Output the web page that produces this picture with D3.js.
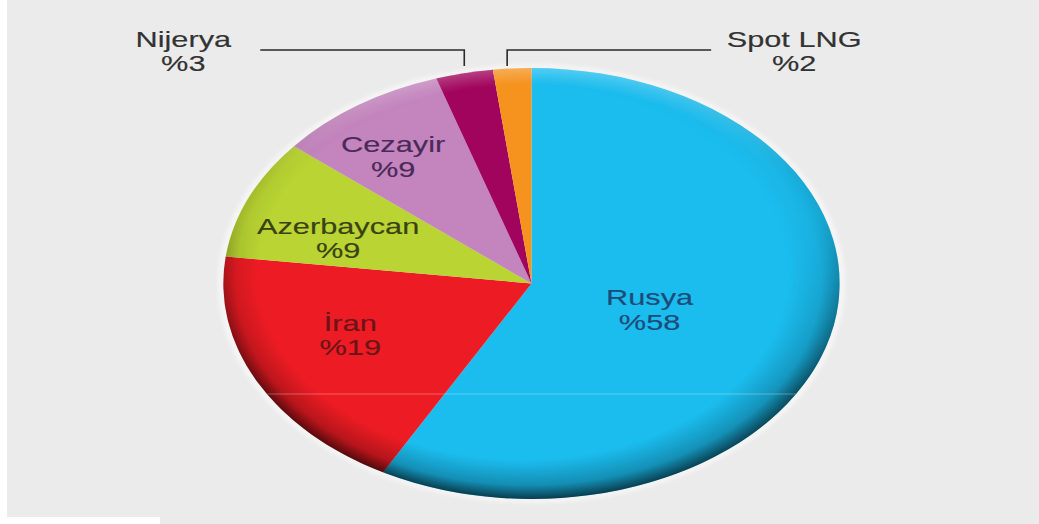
<!DOCTYPE html>
<html>
<head>
<meta charset="utf-8">
<script src="https://cdn.jsdelivr.net/npm/d3@7"></script>
<style>
  html, body { margin: 0; padding: 0; background: #ffffff; }
  svg { display: block; }
  text { font-family: "Liberation Sans", Arial, sans-serif; }
</style>
</head>
<body>
<svg id="chart" width="1039" height="524"></svg>
<script>
// Gas import shares by supplier (%)
const suppliers = ["Rusya", "İran", "Azerbaycan", "Cezayir", "Nijerya", "Spot LNG"];
const shares = [58, 19, 9, 9, 3, 2];
const shareLabels = ["%58", "%19", "%9", "%9", "%3", "%2"];
const sliceColors = ["#1bbdef", "#ed1c24", "#b9d433", "#c484be", "#a1045d", "#f6931e"];
const labelColors = ["#1d4b79", "#6a1418", "#3a4214", "#4a2a58", "#333333", "#333333"];

const W = 1039, H = 524;
const cx = 531.5, cy = 283.5;
const R = 215.5;          // vertical radius
const sx = 1.43;          // horizontal stretch of the pie
const fontSize = 21.5;

const svg = d3.select("#chart");
const defs = svg.append("defs");

// backdrop
svg.append("rect").attr("width", W).attr("height", H).attr("fill", "#ebebeb");
svg.append("rect").attr("x", 0).attr("y", 0).attr("width", 7).attr("height", H).attr("fill", "#ffffff");
svg.append("rect").attr("x", 0).attr("y", 517).attr("width", 160).attr("height", 7).attr("fill", "#ffffff");

// gradients for the rim shading
const shade = defs.append("radialGradient").attr("id", "rimShade")
  .attr("gradientUnits", "userSpaceOnUse")
  .attr("cx", 0).attr("cy", 0).attr("r", R)
  .attr("fx", -R * 0.2).attr("fy", -R * 0.3);
shade.append("stop").attr("offset", "0.86").attr("stop-color", "#000").attr("stop-opacity", 0);
shade.append("stop").attr("offset", "0.95").attr("stop-color", "#000").attr("stop-opacity", 0.25);
shade.append("stop").attr("offset", "1").attr("stop-color", "#000").attr("stop-opacity", 0.68);

const shadeFade = defs.append("linearGradient").attr("id", "shadeFade")
  .attr("x1", 0).attr("y1", 0).attr("x2", 0).attr("y2", 1);
shadeFade.append("stop").attr("offset", "0").attr("stop-color", "#000");
shadeFade.append("stop").attr("offset", "0.35").attr("stop-color", "#333");
shadeFade.append("stop").attr("offset", "0.75").attr("stop-color", "#ddd");
shadeFade.append("stop").attr("offset", "1").attr("stop-color", "#fff");
defs.append("mask").attr("id", "shadeMask")
  .attr("maskUnits", "userSpaceOnUse")
  .attr("x", -R - 10).attr("y", -R - 10).attr("width", 2 * R + 20).attr("height", 2 * R + 20)
  .append("rect")
  .attr("x", -R).attr("y", -R).attr("width", 2 * R).attr("height", 2 * R)
  .attr("fill", "url(#shadeFade)");

const shine = defs.append("radialGradient").attr("id", "rimShine")
  .attr("gradientUnits", "userSpaceOnUse")
  .attr("cx", 0).attr("cy", 0).attr("r", R);
shine.append("stop").attr("offset", "0.92").attr("stop-color", "#fff").attr("stop-opacity", 0);
shine.append("stop").attr("offset", "1").attr("stop-color", "#fff").attr("stop-opacity", 0.25);

const shineFade = defs.append("linearGradient").attr("id", "shineFade")
  .attr("x1", 0).attr("y1", 0).attr("x2", 0).attr("y2", 1);
shineFade.append("stop").attr("offset", "0").attr("stop-color", "#fff");
shineFade.append("stop").attr("offset", "0.25").attr("stop-color", "#000");
defs.append("mask").attr("id", "shineMask")
  .attr("maskUnits", "userSpaceOnUse")
  .attr("x", -R - 10).attr("y", -R - 10).attr("width", 2 * R + 20).attr("height", 2 * R + 20)
  .append("rect")
  .attr("x", -R).attr("y", -R).attr("width", 2 * R).attr("height", 2 * R)
  .attr("fill", "url(#shineFade)");

defs.append("filter").attr("id", "glowBlur")
  .attr("x", "-10%").attr("y", "-10%").attr("width", "120%").attr("height", "120%")
  .append("feGaussianBlur").attr("stdDeviation", 2);

defs.append("clipPath").attr("id", "pieClip")
  .append("circle").attr("r", R);

// pie layout: clockwise from 12 o'clock, in data order
const data = suppliers.map((name, i) => ({
  name, value: shares[i], label: shareLabels[i], color: sliceColors[i], textColor: labelColors[i]
}));
const pie = d3.pie().value(d => d.value).sort(null);
const arcs = pie(data);
const arc = d3.arc().innerRadius(0).outerRadius(R);

const pieG = svg.append("g").attr("transform", `translate(${cx},${cy}) scale(${sx},1)`);

// soft light halo around the rim
pieG.append("circle").attr("r", R + 1.5)
  .attr("fill", "none").attr("stroke", "#ffffff").attr("stroke-opacity", 0.8)
  .attr("stroke-width", 3).attr("filter", "url(#glowBlur)");

pieG.selectAll("path.slice")
  .data(arcs)
  .join("path")
  .attr("class", "slice")
  .attr("d", arc)
  .attr("fill", d => d.data.color);

// rim shading and highlight
pieG.append("circle").attr("r", R).attr("fill", "url(#rimShade)").attr("mask", "url(#shadeMask)");
pieG.append("circle").attr("r", R).attr("fill", "url(#rimShine)").attr("mask", "url(#shineMask)");

// faint reflection line across the lower half
const reflY = 110.5;
const reflHalf = Math.sqrt(R * R - reflY * reflY);
pieG.append("line")
  .attr("x1", -reflHalf).attr("x2", reflHalf)
  .attr("y1", reflY).attr("y2", reflY)
  .attr("stroke", "#ffffff").attr("stroke-opacity", 0.3).attr("stroke-width", 1)
  .attr("clip-path", "url(#pieClip)");

// map a point in pie coordinates to the page
const toPage = ([x, y]) => [cx + x * sx, cy + y];

// labels inside the pie, placed around slice centroids
const labelArc = d3.arc().innerRadius(R * 0.62).outerRadius(R * 0.62);
const inside = { "Rusya": [-67, -7], "İran": [-11, -9], "Azerbaycan": [-18, 8], "Cezayir": [-31, -16] };
const lineGap = 24.5;

function drawLabel(x, y, lines, color) {
  const g = svg.append("g").attr("transform", `translate(${x},${y}) scale(${sx},1)`);
  lines.forEach((t, i) => {
    g.append("text")
      .attr("x", 0).attr("y", i * lineGap)
      .attr("text-anchor", "middle")
      .attr("font-size", fontSize)
      .attr("fill", color)
      .attr("stroke", color)
      .attr("stroke-width", 0.15)
      .text(t);
  });
}

arcs.filter(d => inside[d.data.name]).forEach(d => {
  const [px, py] = toPage(labelArc.centroid(d));
  const [nx, ny] = inside[d.data.name];
  drawLabel(px + nx, py + ny - 4.5, [d.data.name, d.data.label], d.data.textColor);
});

// labels outside with elbow leaders
const outside = { "Nijerya": { dir: -1, nudge: 0 }, "Spot LNG": { dir: 1, nudge: -5 } };
const leaderTop = cy - R - 18;
const leaderBottom = cy - R - 2;
const leaderLen = 204;

arcs.filter(d => outside[d.data.name]).forEach(d => {
  const o = outside[d.data.name];
  const mid = (d.startAngle + d.endAngle) / 2;
  const ax = cx + Math.sin(mid) * R * sx + o.nudge;
  const ex = ax + o.dir * leaderLen;
  svg.append("path")
    .attr("d", d3.line()([[ax, leaderBottom], [ax, leaderTop], [ex, leaderTop]]))
    .attr("fill", "none")
    .attr("stroke", "#2a2a2a")
    .attr("stroke-width", 1.6);
  const textX = o.dir < 0 ? ex - 77 : ex + 83;
  drawLabel(textX, leaderTop - 3, [d.data.name, d.data.label], d.data.textColor);
});
</script>
</body>
</html>
